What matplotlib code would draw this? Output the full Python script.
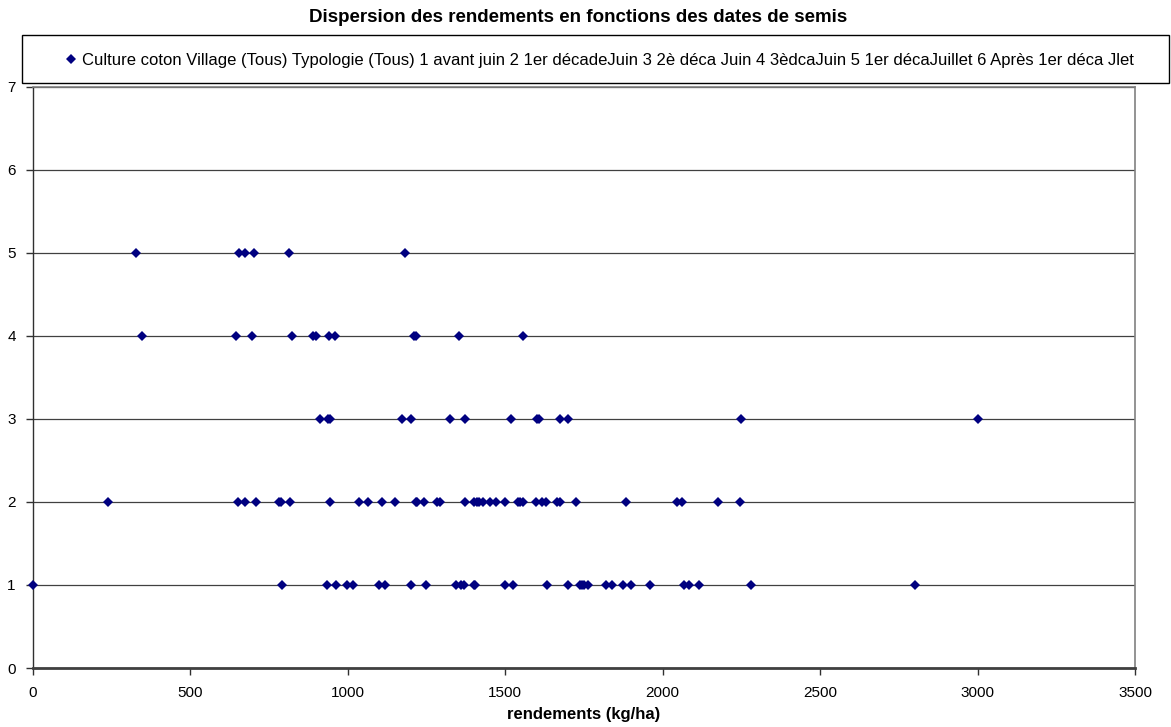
import numpy as np
import matplotlib
matplotlib.use('Agg')
from matplotlib import pyplot as plt
from matplotlib.lines import Line2D
from matplotlib.patches import Rectangle

plt.rcParams['font.family'] = ['Liberation Sans', 'DejaVu Sans']

# rendements (kg/ha) par classe de date de semis
rend1 = [0, 793, 935, 964, 997, 1019, 1099, 1119, 1200, 1250, 1346, 1360, 1370,
         1400, 1406, 1500, 1524, 1634, 1700, 1737, 1744, 1752, 1762, 1822, 1840,
         1876, 1901, 1959, 2068, 2084, 2115, 2281, 2800]
rend2 = [239, 653, 674, 708, 781, 789, 818, 944, 1038, 1064, 1109, 1151, 1216,
         1222, 1242, 1285, 1293, 1372, 1400, 1410, 1418, 1431, 1453, 1473, 1500,
         1540, 1548, 1558, 1598, 1619, 1631, 1665, 1674, 1725, 1883, 2047, 2061,
         2175, 2245]
rend3 = [912, 939, 946, 1173, 1200, 1325, 1372, 1518, 1601, 1607, 1674, 1700,
         2250, 3000]
rend4 = [349, 645, 698, 823, 890, 900, 941, 959, 1210, 1218, 1354, 1558]
rend5 = [328, 657, 674, 704, 814, 1184]

classes = [1, 2, 3, 4, 5]
rendements = [rend1, rend2, rend3, rend4, rend5]

legende = ("Culture coton Village (Tous) Typologie (Tous) 1 avant juin 2 1er décadeJuin "
           "3 2è déca Juin 4 3èdcaJuin 5 1er décaJuillet 6 Après 1er déca Jlet")

W, H = 1171, 727
fig = plt.figure(figsize=(W / 100, H / 100), dpi=100)
ax = fig.add_axes([32.5 / W, (H - 668) / H, (1135 - 32.5) / W, (668 - 86.5) / H])

x = []
y = []
for c, r in zip(classes, rendements):
    x += r
    y += [c] * len(r)
ax.plot(x, y, linestyle='none', marker='D', markersize=4.8, color='#000080',
        markeredgewidth=0, zorder=3, clip_on=False)

ax.set_xlim(0, 3500)
ax.set_ylim(0, 7)
ax.set_xticks(np.arange(0, 3501, 500))
ax.set_yticks(np.arange(0, 8, 1))
ax.yaxis.grid(True, color='#404040', linewidth=0.9)
ax.set_axisbelow(True)

for s in ['top', 'right']:
    ax.spines[s].set_color('#808080')
    ax.spines[s].set_linewidth(1.2)
ax.spines['left'].set_color('#303030')
ax.spines['left'].set_linewidth(1.0)
ax.spines['bottom'].set_color('#404040')
ax.spines['bottom'].set_linewidth(2.0)
ax.tick_params(axis='both', direction='out', length=5, width=1, color='#303030',
               labelsize=11, pad=8)
ax.tick_params(axis='y', pad=7)

ax.set_xlabel('rendements (kg/ha)', fontsize=12, fontweight='bold', labelpad=5)
fig.text(578 / W, 1 - 17 / H, 'Dispersion des rendements en fonctions des dates de semis',
         ha='center', va='center', fontsize=13.5, fontweight='bold')

# cadre de la légende
fig.patches.append(Rectangle((22 / W, 1 - 83 / H), (1169 - 22) / W, (83 - 35) / H,
                             transform=fig.transFigure, fill=True, facecolor='white',
                             edgecolor='black', linewidth=1.0, zorder=5))
h = Line2D([], [], linestyle='none', marker='D', markersize=4.8, color='#000080',
           markeredgewidth=0)
leg = fig.legend([h], [legende], loc='center', bbox_to_anchor=(600 / W, 1 - 60 / H),
                 fontsize=12, frameon=False, handlelength=0.6, handletextpad=0.4,
                 borderpad=0, borderaxespad=0)
leg.set_zorder(6)

plt.savefig('out.png', dpi=100)
